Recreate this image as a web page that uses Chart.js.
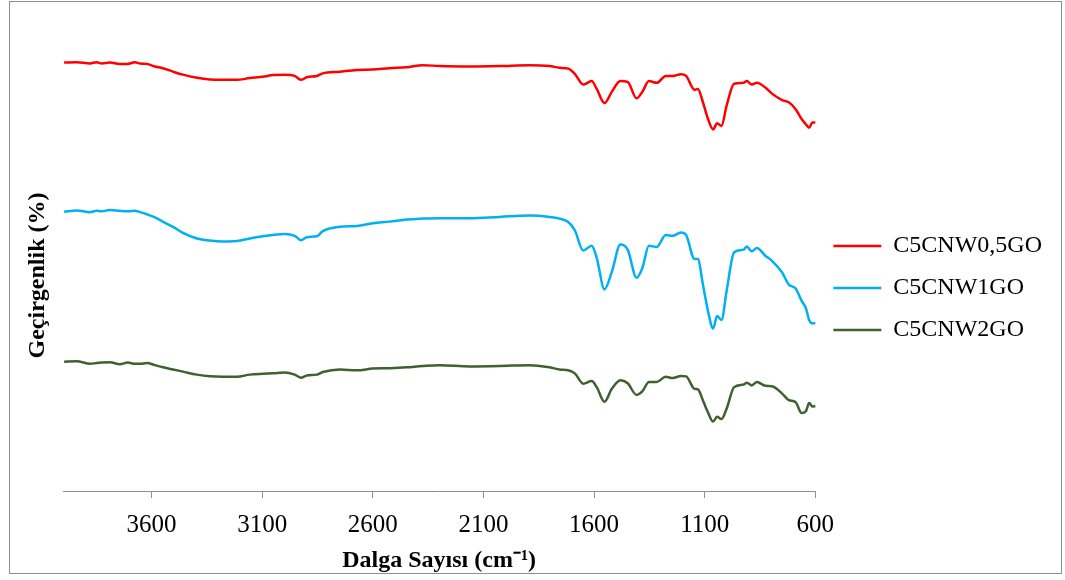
<!DOCTYPE html>
<html>
<head>
<meta charset="utf-8">
<script src="https://cdn.jsdelivr.net/npm/chart.js@4.4.1/dist/chart.umd.min.js"></script>
<style>
    body { margin: 0; background: #fff; }
    #frame {
        position: absolute; left: 9px; top: 1px; width: 1053px; height: 573px;
        box-sizing: border-box; border: 1px solid #8f8f8f;
    }
    #ftir { position: absolute; left: 0; top: 0; }
</style>
</head>
<body>
<div id="frame"></div>
<canvas id="ftir" width="1065" height="580"></canvas>
<script>
// dalga sayısı (cm-1), ortak ölçüm noktaları
const waveNumbers = [3995, 3938, 3878, 3848, 3825, 3788, 3743, 3707, 3675, 3652,
    3621, 3585, 3549, 3503, 3458, 3395, 3336, 3278, 3214, 3156,
    3097, 3052, 2998, 2953, 2925, 2898, 2853, 2826, 2749, 2673,
    2600, 2524, 2447, 2375, 2298, 2162, 2027, 1892, 1801, 1756,
    1717, 1687, 1649, 1611, 1588, 1553, 1520, 1481, 1448, 1408,
    1382, 1352, 1317, 1276, 1245, 1207, 1184, 1146, 1131, 1108,
    1085, 1062, 1044, 1024, 1001, 967, 925, 910, 887, 864,
    826, 796, 750, 720, 689, 662, 643, 628, 613, 600];

const seriesNames = ['C5CNW0,5GO', 'C5CNW1GO', 'C5CNW2GO'];

const c5cnw05go = [99.4, 99.5, 99.2, 99.5, 99.2, 99.4, 99.1, 99.1, 99.5, 99.2,
    99.1, 98.5, 98.1, 97.3, 96.6, 95.9, 95.5, 95.4, 95.4, 95.8,
    96.1, 96.5, 96.6, 96.3, 95.4, 96.0, 96.3, 96.9, 97.3, 97.7,
    97.8, 98.1, 98.3, 98.8, 98.6, 98.5, 98.6, 98.8, 98.6, 98.2,
    98.0, 96.8, 94.3, 95.1, 93.3, 90.0, 92.6, 95.1, 94.9, 91.1,
    92.6, 95.1, 94.7, 96.3, 96.3, 96.7, 96.3, 93.1, 93.3, 90.2,
    86.3, 83.9, 85.3, 84.7, 89.4, 94.5, 94.7, 95.1, 94.3, 94.7,
    93.6, 92.2, 90.7, 90.2, 88.6, 86.3, 85.1, 84.3, 85.5, 85.5];

const c5cnw1go = [64.8, 65.1, 64.7, 65.0, 64.9, 65.2, 65.0, 64.9, 65.0, 64.7,
    64.2, 63.5, 62.5, 61.3, 59.9, 58.6, 58.1, 57.9, 58.0, 58.6,
    59.1, 59.4, 59.6, 59.2, 58.2, 58.9, 59.1, 60.3, 61.3, 61.5,
    62.1, 62.5, 63.0, 63.2, 63.3, 63.3, 63.6, 63.9, 63.6, 63.2,
    62.4, 60.5, 55.8, 56.9, 54.1, 46.8, 50.8, 57.2, 56.0, 49.5,
    51.7, 56.9, 56.6, 59.4, 59.2, 60.0, 59.4, 53.8, 53.8, 47.9,
    41.7, 37.7, 40.6, 39.7, 46.4, 55.4, 56.0, 56.7, 55.6, 56.4,
    54.6, 53.4, 50.7, 47.9, 47.0, 44.1, 42.5, 39.7, 38.9, 38.9];

const c5cnw2go = [30.0, 30.1, 29.5, 29.7, 29.8, 29.9, 29.4, 29.8, 29.5, 29.5,
    29.7, 29.2, 28.7, 28.2, 27.7, 27.0, 26.6, 26.5, 26.5, 27.0,
    27.2, 27.3, 27.5, 27.0, 26.3, 26.8, 27.0, 27.6, 28.2, 28.0,
    28.4, 28.5, 28.7, 29.0, 29.2, 28.9, 29.0, 29.2, 28.7, 28.2,
    28.0, 27.3, 24.9, 25.5, 24.1, 20.7, 23.7, 25.7, 25.0, 22.3,
    23.1, 25.3, 25.3, 26.5, 26.2, 26.7, 26.6, 23.7, 23.6, 21.0,
    18.2, 16.1, 17.2, 16.7, 19.1, 24.1, 24.7, 25.1, 24.5, 25.3,
    24.4, 24.3, 22.6, 21.1, 20.6, 18.1, 18.5, 20.4, 19.6, 19.7];

const xTicks = [600, 1100, 1600, 2100, 2600, 3100, 3600];

const lineColors = ['#ff0000', '#00b0f0', '#3e6130'];
const allSeries = [c5cnw05go, c5cnw1go, c5cnw2go];

const serif = "'Liberation Serif', 'Times New Roman', serif";

function toPoints(values) {
    return values.map((v, i) => ({ x: waveNumbers[i], y: v }));
}

const datasets = allSeries.map((values, i) => ({
    label: seriesNames[i],
    data: toPoints(values),
    borderColor: lineColors[i],
    backgroundColor: lineColors[i],
    borderWidth: 2.5,
    pointRadius: 0,
    fill: false,
    cubicInterpolationMode: 'monotone',
    clip: false
}));

new Chart(document.getElementById('ftir'), {
    type: 'line',
    data: { datasets: datasets },
    options: {
        responsive: false,
        animation: false,
        layout: {
            padding: { top: 0, left: 10, right: 13, bottom: 4 }
        },
        plugins: {
            // boş başlık: çizim alanını aşağı iter
            title: {
                display: true,
                text: '',
                font: { size: 12 },
                padding: { top: 45.6, bottom: 0 }
            },
            legend: {
                position: 'right',
                labels: {
                    usePointStyle: true,
                    pointStyle: 'line',
                    pointStyleWidth: 48,
                    padding: 18,
                    color: '#000',
                    font: { family: serif, size: 24 }
                }
            },
            tooltip: { enabled: false }
        },
        scales: {
            x: {
                type: 'linear',
                reverse: true,
                min: 600,
                max: 4000,
                afterBuildTicks: (scale) => {
                    scale.ticks = xTicks.map(v => ({ value: v }));
                },
                afterFit: (scale) => {
                    scale.height = 85; // eksen çizgisi y=491
                },
                grid: {
                    drawOnChartArea: false,
                    drawTicks: true,
                    tickLength: 7,
                    color: '#8f8f8f'
                },
                border: { display: true, color: '#8f8f8f', width: 1 },
                ticks: {
                    color: '#000',
                    padding: 12,
                    maxRotation: 0,
                    font: { family: serif, size: 25 },
                    callback: (v) => String(v)
                },
                title: {
                    display: true,
                    text: 'Dalga Sayısı (cm⁻¹)',
                    color: '#000',
                    padding: { top: 6, bottom: 1 },
                    font: { family: serif, size: 24, weight: 'bold' }
                }
            },
            y: {
                min: 0,
                max: 100,
                afterFit: (scale) => {
                    scale.width = 53;
                },
                ticks: { display: false },
                grid: { display: false, drawTicks: false },
                border: { display: false },
                title: {
                    display: true,
                    text: 'Geçirgenlik (%)',
                    color: '#000',
                    padding: { top: 13, bottom: 11 },
                    font: { family: serif, size: 24, weight: 'bold' }
                }
            }
        }
    }
});
</script>
</body>
</html>
